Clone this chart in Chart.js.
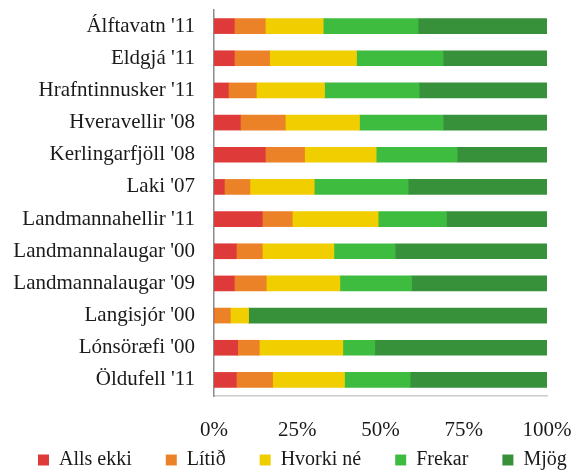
<!DOCTYPE html>
<html>
<head>
<meta charset="utf-8">
<script src="https://cdn.jsdelivr.net/npm/chart.js@4.4.1/dist/chart.umd.min.js"></script>
<style>
  html, body { margin: 0; padding: 0; background: #fff; }
  #wrap { width: 577px; height: 472px; }
</style>
</head>
<body>
<div id="wrap"><canvas id="barChart" width="577" height="472"></canvas></div>
<script>
// Data
const places = ["Álftavatn '11", "Eldgjá '11", "Hrafntinnusker '11", "Hveravellir '08", "Kerlingarfjöll '08", "Laki '07",
    "Landmannahellir '11", "Landmannalaugar '00", "Landmannalaugar '09", "Langisjór '00", "Lónsöræfi '00", "Öldufell '11"];
const allsEkki  = [6.1, 6.1, 4.3, 7.9, 15.4, 3.1, 14.5, 6.7, 6.1, 0, 7.1, 6.7];
const litid     = [9.3, 10.6, 8.4, 13.5, 11.8, 7.7, 9.0, 7.8, 9.6, 4.9, 6.5, 10.9];
const hvorkiNe  = [17.4, 26.1, 20.5, 22.3, 21.5, 19.3, 25.8, 21.5, 22.1, 5.5, 25.1, 21.6];
const frekar    = [28.5, 26.0, 28.4, 25.1, 24.3, 28.2, 20.5, 18.4, 21.5, 0, 9.6, 19.7];
const mjog      = [38.7, 31.2, 38.4, 31.2, 27.0, 41.7, 30.2, 45.6, 40.7, 89.6, 51.7, 41.1];
const xTicks = [0, 25, 50, 75, 100];

const serif = "'Liberation Serif', 'DejaVu Serif', serif";
const font = { family: serif, size: 21 };

// moves the legend so its first box lines up with the reference
const legendShift = {
    id: 'legendShift',
    afterLayout(chart) {
        chart.legend.left = 34;
    }
};

const ctx = document.getElementById('barChart');
new Chart(ctx, {
    type: 'bar',
    data: {
        labels: places,
        datasets: [
            { label: 'Alls ekki', data: allsEkki, backgroundColor: '#DF3A3A' },
            { label: 'Lítið', data: litid, backgroundColor: '#EC8228' },
            { label: 'Hvorki né', data: hvorkiNe, backgroundColor: '#F0CE00' },
            { label: 'Frekar', data: frekar, backgroundColor: '#3EBC40' },
            { label: 'Mjög', data: mjog, backgroundColor: '#37913A' }
        ]
    },
    plugins: [legendShift],
    options: {
        indexAxis: 'y',
        responsive: false,
        animation: false,
        barThickness: 15,
        layout: { padding: { top: 10, left: 0, right: 0, bottom: 0 } },
        scales: {
            x: {
                stacked: true,
                min: 0,
                max: 100,
                afterBuildTicks: (s) => { s.ticks = xTicks.map(v => ({ value: v })); },
                afterFit: (s) => { s.height = 50; s.paddingLeft = 0; s.paddingRight = 30; },
                grid: { display: false, drawTicks: false },
                border: { display: true, color: '#cccccc', width: 1.5 },
                ticks: {
                    padding: 22,
                    color: '#1a1a1a',
                    font: font,
                    callback: (v) => v + '%'
                }
            },
            y: {
                stacked: true,
                afterFit: (s) => { s.width = 214; s.paddingTop = 0; s.paddingBottom = 0; },
                grid: { display: false, drawTicks: false },
                border: { display: true, color: '#8c8c8c', width: 1.5 },
                ticks: { padding: 19, color: '#1a1a1a', font: font }
            }
        },
        plugins: {
            tooltip: { enabled: false },
            legend: {
                display: true,
                position: 'bottom',
                align: 'start',
                maxHeight: 26,
                labels: {
                    boxWidth: 11,
                    boxHeight: 11,
                    padding: 4,
                    color: '#1a1a1a',
                    font: { family: serif, size: 20 },
                    generateLabels: (chart) => {
                        const items = Chart.defaults.plugins.legend.labels.generateLabels(chart);
                        items.forEach((item, i) => {
                            if (i < items.length - 1) item.text += '      ';
                        });
                        return items;
                    }
                }
            }
        }
    }
});
</script>
</body>
</html>
